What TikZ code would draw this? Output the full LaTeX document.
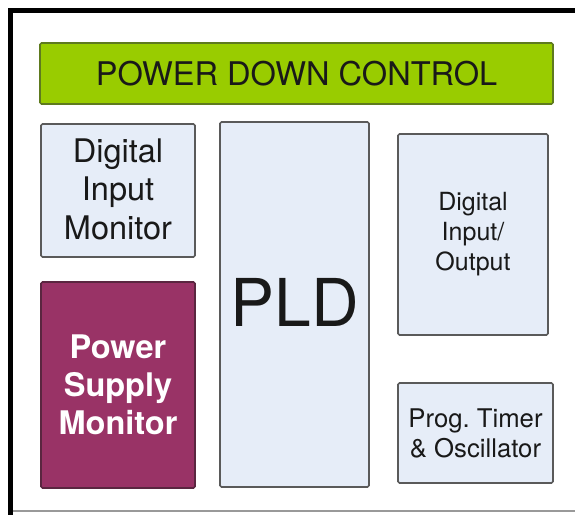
\documentclass[tikz,border=0pt]{standalone}
\usepackage{fontspec}
\setmainfont{TeX Gyre Heros}
\definecolor{pdgreen}{HTML}{99CC00}
\definecolor{pdgreenedge}{HTML}{5E7A1E}
\definecolor{psmred}{HTML}{993366}
\definecolor{psmedge}{HTML}{5A2640}
\definecolor{boxblue}{HTML}{E6EDF8}
\definecolor{boxedge}{HTML}{5A5A5A}
\begin{document}
\begin{tikzpicture}[x=1pt,y=-1pt,
  blk/.style={draw=boxedge,fill=boxblue,line width=1.6pt,rounded corners=1.5pt,
    inner sep=0pt,outer sep=0pt,align=center,text=black!90},
  bigtext/.style={font=\fontsize{32.5}{39}\selectfont},
  midtext/.style={font=\fontsize{25}{30}\selectfont}]
\useasboundingbox (0,0) rectangle (575,515);
\fill[white] (0,0) rectangle (575,515);
% frame
\draw[line width=5pt,black] (575,10.5) -- (10.5,10.5) -- (10.5,515);
\draw[line width=1.4pt,black!40] (13,511) -- (575,511);
% blocks
\node[blk,draw=pdgreenedge,fill=pdgreen,minimum width=513pt,minimum height=61pt,
  font=\fontsize{32.6}{38}\selectfont] (pdc) at (296.5,73.5) {POWER DOWN CONTROL};
\node[blk,bigtext,minimum width=154pt,minimum height=133pt] (dim) at (118,190.5)
  {\raisebox{3pt}{\shortstack{Digital\\[5pt]Input\\[5pt]Monitor}}};
\node[blk,minimum width=149pt,minimum height=365pt,font=\fontsize{66}{70}\selectfont]
  (pld) at (294.5,304.5) {\raisebox{5pt}{PLD}};
\node[blk,draw=psmedge,fill=psmred,text=white,font=\bfseries\fontsize{32.5}{38}\selectfont,
  minimum width=154pt,minimum height=206pt] (psm) at (118,385)
  {Power\\Supply\\Monitor};
\node[blk,midtext,minimum width=150pt,minimum height=201pt] (dio) at (473,234.5)
  {Digital\\Input/\\Output};
\node[blk,font=\fontsize{25.7}{30}\selectfont,minimum width=155pt,minimum height=100pt] (pto) at (475.5,433)
  {Prog.\ Timer\\\& Oscillator};
\end{tikzpicture}
\end{document}
